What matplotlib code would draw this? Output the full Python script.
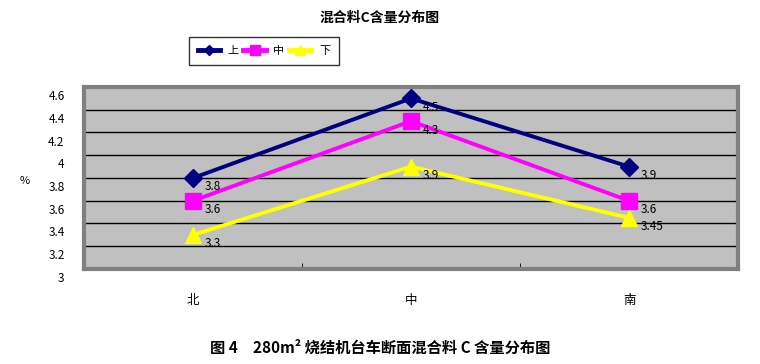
import numpy as np
import matplotlib.pyplot as plt
import matplotlib.transforms as mtransforms

plt.rcParams['font.family'] = ['Noto Sans CJK SC', 'DejaVu Sans']

# dane z wykresu
pozycje = ['北', '中', '南']
shang = [3.8, 4.5, 3.9]
zhong = [3.6, 4.3, 3.6]
xia = [3.3, 3.9, 3.45]
etykiety_serii = ['上', '中', '下']
yticks = [3, 3.2, 3.4, 3.6, 3.8, 4, 4.2, 4.4, 4.6]

fig = plt.figure(figsize=(7.6, 3.64), dpi=100)
ax = fig.add_axes([84/760, 1-269/364, 654/760, 182/364])
ax.set_facecolor('#C0C0C0')

x = np.arange(len(pozycje))
serie = [
    (shang, '#000080', 'D', 9),
    (zhong, '#FF00FF', 's', 11),
    (xia, '#FFFF00', '^', 12),
]
for (vals, kolor, marker, ms), nazwa in zip(serie, etykiety_serii):
    ax.plot(x, vals, color=kolor, lw=2.8, marker=marker, ms=ms,
            markeredgecolor=kolor, label=nazwa, zorder=3)
    for xi, v in zip(x, vals):
        ax.annotate(f'{v:g}', (xi, v), xytext=(12, -9), textcoords='offset pixels',
                    ha='left', va='center', fontsize=8.5, color='black', zorder=4)

ax.set_xlim(-0.5, 2.5)
ax.set_ylim(3, 4.6)
ax.set_yticks(yticks)
ax.set_yticklabels([f'{t:g}' for t in yticks], fontsize=8.5)
ax.yaxis.grid(True, color='black', lw=1)
ax.set_axisbelow(True)
ax.tick_params(axis='y', length=0, pad=14)
przes = mtransforms.ScaledTranslation(0, -8/100, fig.dpi_scale_trans)
for lab in ax.get_yticklabels():
    lab.set_transform(lab.get_transform() + przes)

ax.set_xticks(x)
ax.set_xticklabels(pozycje, fontsize=9)
ax.set_xticks([0.5, 1.5], minor=True)
ax.tick_params(axis='x', which='major', length=0, pad=18)
ax.tick_params(axis='x', which='minor', direction='in', length=4, color='black')

for s in ax.spines.values():
    s.set_color('#808080')
    s.set_linewidth(3)

fig.text(25/760, 1-181/364, '%', fontsize=8, ha='center', va='center')
fig.text(0.5, 1-18/364, '混合料C含量分布图', fontsize=10, fontweight='bold',
         ha='center', va='center')

leg = fig.legend(loc='center', bbox_to_anchor=(264/760, 1-51/364), ncol=3,
                 fontsize=8, frameon=True, fancybox=False, edgecolor='black',
                 handlelength=2.0, columnspacing=0.4, handletextpad=0.7,
                 borderpad=0.8, borderaxespad=0, markerscale=0.6)
leg.get_frame().set_linewidth(1)
for h in leg.get_lines():
    h.set_linewidth(3.5)

fig.text(0.5, 1-348/364, '图 4　280m² 烧结机台车断面混合料 C 含量分布图',
         fontsize=11, fontweight='bold', ha='center', va='center')

fig.savefig('out.png', dpi=100)
